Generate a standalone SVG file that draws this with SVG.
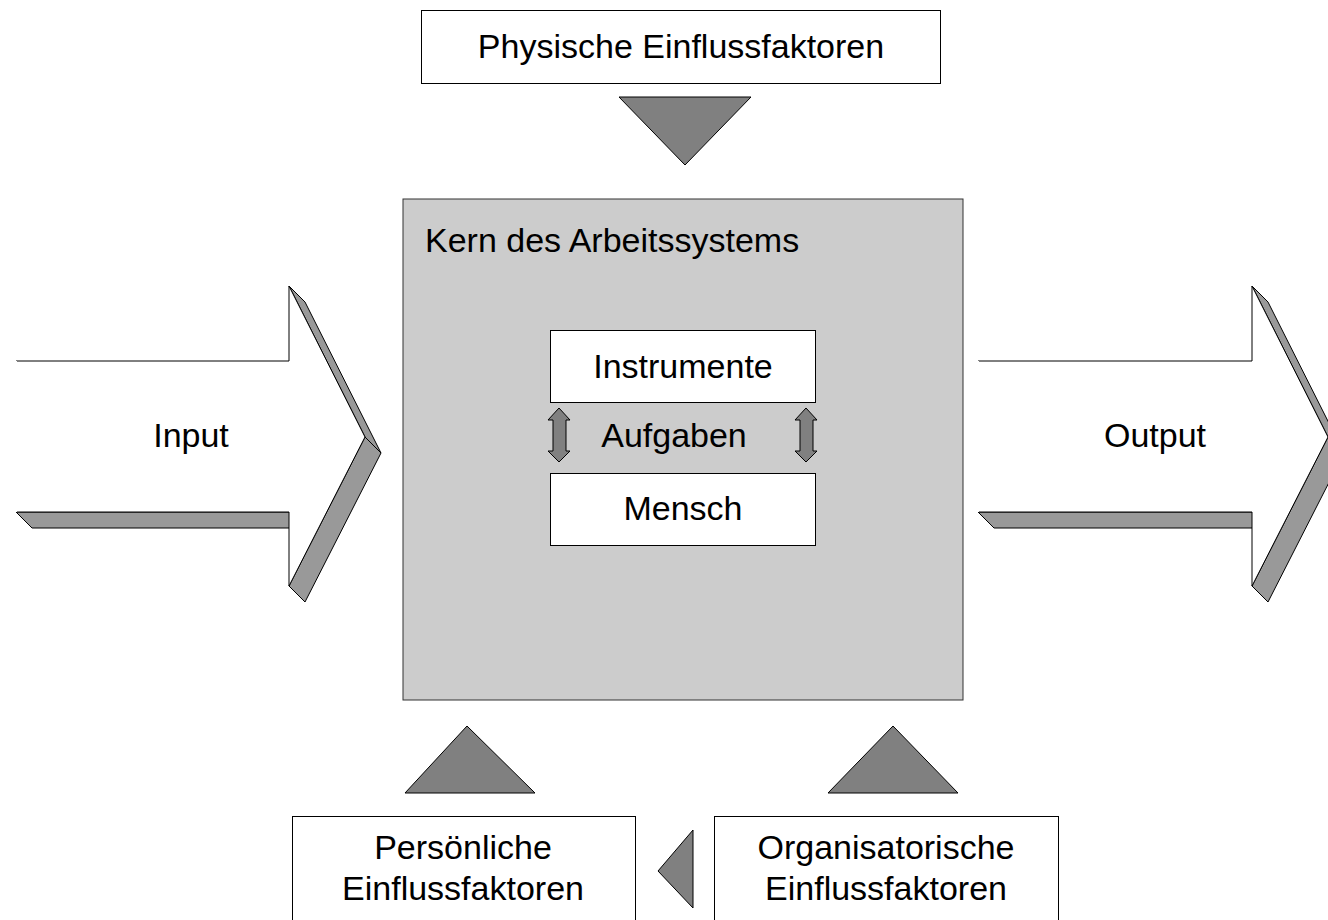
<svg xmlns="http://www.w3.org/2000/svg" width="1328" height="920" viewBox="0 0 1328 920">
<style>
text{font-family:"Liberation Sans",Arial,sans-serif;font-size:34px;fill:#000}
.box{fill:#fff;stroke:#000;stroke-width:1}
.tri{fill:#808080;stroke:#000;stroke-width:1}
.face{fill:#999;stroke:#000;stroke-width:1}
.front{fill:#fff;stroke:#000;stroke-width:1}
</style>
<rect width="1328" height="920" fill="#fff"/>
<g id="core">
<rect x="403" y="199" width="560" height="501" fill="#ccc" stroke="#333" stroke-width="1"/>
<text x="425" y="252">Kern des Arbeitssystems</text>
</g>
<g id="instrumente">
<rect class="box" x="550.5" y="330.5" width="265" height="72"/>
<text x="683" y="378" text-anchor="middle">Instrumente</text>
</g>
<g id="mensch">
<rect class="box" x="550.5" y="473.5" width="265" height="72"/>
<text x="683" y="520" text-anchor="middle">Mensch</text>
</g>
<g id="aufgaben">
<text x="674" y="447" text-anchor="middle">Aufgaben</text>
</g>
<g id="physisch">
<rect class="box" x="421.5" y="10.5" width="519" height="73"/>
<text x="681" y="58" text-anchor="middle">Physische Einflussfaktoren</text>
</g>
<g id="persoenlich">
<rect class="box" x="292.5" y="816.5" width="343" height="120"/>
<text x="463" y="859" text-anchor="middle">Persönliche</text>
<text x="463" y="900" text-anchor="middle">Einflussfaktoren</text>
</g>
<g id="organisatorisch">
<rect class="box" x="714.5" y="816.5" width="344" height="120"/>
<text x="886" y="859" text-anchor="middle">Organisatorische</text>
<text x="886" y="900" text-anchor="middle">Einflussfaktoren</text>
</g>
<g id="input">
<polygon class="face" points="16,512 289,512 305,528 32,528"/>
<polygon class="face" points="289,286 305,302 381,453 365,437"/>
<polygon class="face" points="365,437 381,453 305,602 289,586"/>
<polygon class="front" points="16,361 289,361 289,286 365,437 289,586 289,512 16,512"/>
<line x1="16" y1="512" x2="16" y2="361" stroke="#fff" stroke-width="2"/>
<text x="191" y="447" text-anchor="middle">Input</text>
</g>
<g id="output">
<polygon class="face" points="978,512 1252,512 1268,528 994,528"/>
<polygon class="face" points="1252,286 1268,302 1344,453 1328,437"/>
<polygon class="face" points="1328,437 1344,453 1268,602 1252,586"/>
<polygon class="front" points="978,361 1252,361 1252,286 1328,437 1252,586 1252,512 978,512"/>
<line x1="978" y1="512" x2="978" y2="361" stroke="#fff" stroke-width="2"/>
<text x="1155" y="447" text-anchor="middle">Output</text>
</g>
<g id="connectors">
<polygon class="tri" points="619,97 751,97 685,165"/>
<polygon class="tri" points="405,793 535,793 467,726"/>
<polygon class="tri" points="828,793 958,793 893,726"/>
<polygon class="tri" points="693,830 693,908 658,871"/>
<polygon class="tri" points="559,408 570,420 566,420 566,451 570,451 559,462 548,451 553,451 553,420 548,420"/>
<polygon class="tri" points="806,408 817,420 813,420 813,451 817,451 806,462 795,451 800,451 800,420 795,420"/>
</g>
</svg>
